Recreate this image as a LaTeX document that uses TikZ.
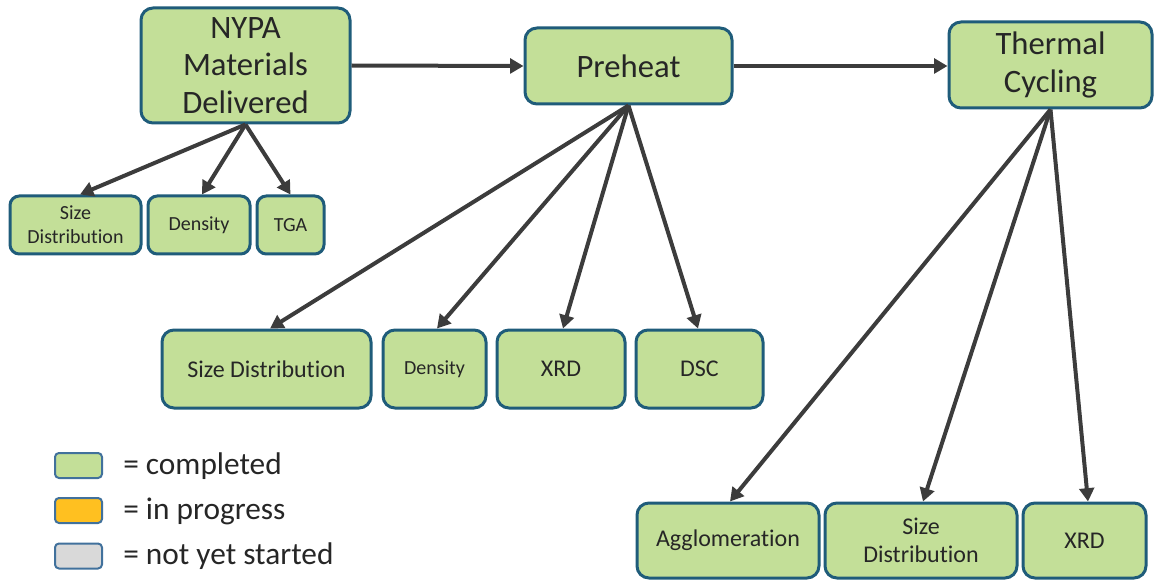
\documentclass[tikz,border=0pt]{standalone}
\usepackage{fontspec}
\setmainfont{Carlito}[Ligatures=NoCommon]
\usetikzlibrary{calc,arrows.meta}
\definecolor{boxfill}{HTML}{C3DF98}
\definecolor{boxline}{HTML}{1F5C7A}
\definecolor{txt}{HTML}{262626}
\definecolor{arr}{HTML}{3C3C3C}
\definecolor{legline}{HTML}{41719C}
\definecolor{orangefill}{HTML}{FFC020}
\definecolor{grayfill}{HTML}{D9D9D9}
\begin{document}
\begin{tikzpicture}[x=0.75pt,y=-0.75pt,
  box/.style 2 args={draw=boxline, fill=boxfill, line width=2.25pt, rounded corners=9pt,
    inner sep=0pt, align=center, text=txt, minimum width=#1*0.75pt, minimum height=#2*0.75pt},
  bigtext/.style={font=\fontsize{24.5}{28}\selectfont},
  smalltext/.style={font=\fontsize{15}{18}\selectfont},
  midtext/.style={font=\fontsize{18}{21}\selectfont},
  legbox/.style={draw=legline, line width=1.5pt, rounded corners=3pt, inner sep=0pt,
    minimum width=47*0.75pt, minimum height=25*0.75pt},
  legtext/.style={anchor=west, text=txt, inner sep=0pt, font=\fontsize{23.5}{27}\selectfont},
  link/.style={draw=arr, line width=3pt, -{Triangle[length=10pt,width=11pt]}}]
\useasboundingbox (0,0) rectangle (1154,581);
% main boxes
\node[box={209}{115}, bigtext] (nypa) at (245.5,65.5) {NYPA\\Materials\\Delivered};
\node[box={207}{76}, bigtext] (pre) at (628.5,66) {Preheat};
\node[box={203}{86}, bigtext] (tc) at (1050.5,65) {Thermal\\Cycling};
% row 1
\node[box={131}{58}, smalltext, rounded corners=7pt] (sd1) at (75.5,225) {Size\\Distribution};
\node[box={102}{58}, smalltext, rounded corners=7pt] (den1) at (199,225) {Density};
\node[box={67}{58}, smalltext, rounded corners=7pt] (tga) at (290.5,225) {TGA};
% row 2
\node[box={209}{78}, midtext] (sd2) at (266.5,369) {Size Distribution};
\node[box={103}{78}, smalltext] (den2) at (434.5,369) {Density};
\node[box={128}{78}, midtext] (xrd2) at (561,369) {XRD};
\node[box={127}{78}, midtext] (dsc) at (699.5,369) {DSC};
% row 3
\node[box={182}{75}, midtext] (agg) at (728,540.5) {Agglomeration};
\node[box={192}{75}, midtext] (sd3) at (921,540.5) {Size\\Distribution};
\node[box={123}{75}, midtext] (xrd3) at (1084.5,540.5) {XRD};
% connectors
\draw[link] (nypa.east) -- (pre.west);
\draw[link] (pre.east) -- (tc.west |- pre.east);
\draw[link] (nypa.south) -- ($(sd1.north)+(4.5,0)$);
\draw[link] (nypa.south) -- ($(den1.north)+(3,0)$);
\draw[link] (nypa.south) -- (tga.north);
\draw[link] (pre.south) -- ($(sd2.north)+(3.5,0)$);
\draw[link] (pre.south) -- ($(den2.north)+(2.5,0)$);
\draw[link] (pre.south) -- ($(xrd2.north)+(2,0)$);
\draw[link] (pre.south) -- ($(dsc.north)+(-1.5,0)$);
\draw[link] (tc.south) -- ($(agg.north)+(2,0)$);
\draw[link] (tc.south) -- ($(sd3.north)+(2,0)$);
\draw[link] (tc.south) -- ($(xrd3.north)+(3.5,0)$);
% legend
\node[legbox, fill=boxfill] (lg1) at (78.5,465.5) {};
\node[legbox, fill=orangefill] (lg2) at (78.5,510.5) {};
\node[legbox, fill=grayfill] (lg3) at (78.5,556) {};
\node[legtext] (lt1) at (123,466) {= completed};
\node[legtext] (lt2) at (123,511) {= in progress};
\node[legtext] (lt3) at (123,556) {= not yet started};
\end{tikzpicture}
\end{document}
